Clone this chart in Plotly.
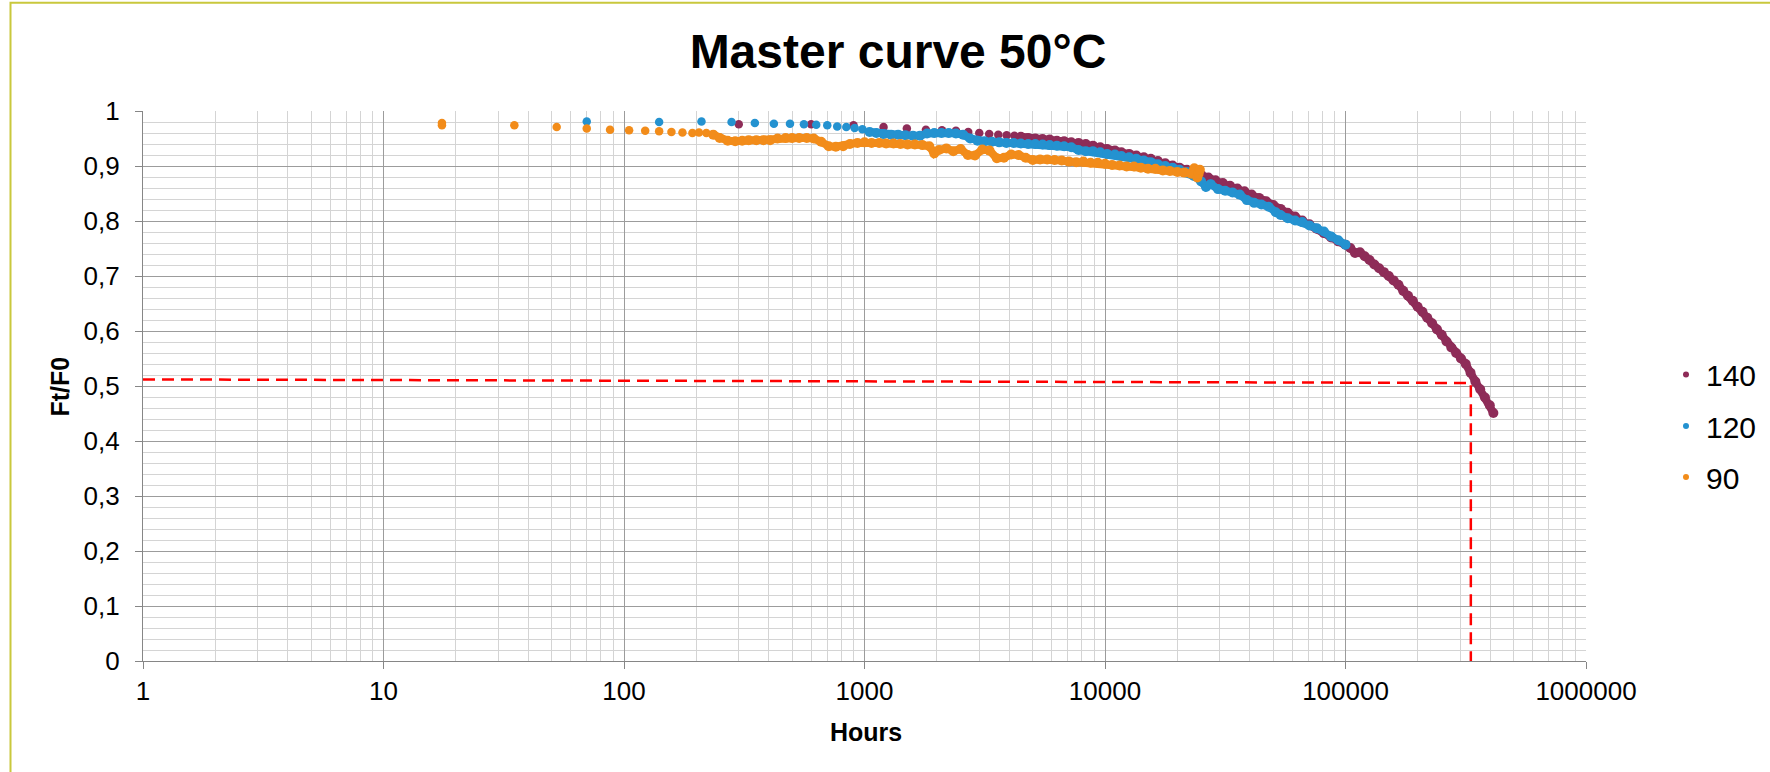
import plotly.graph_objects as go

# Master curve at 50 °C: Ft/F0 versus shifted time (hours) for three ageing temperatures
hours_140 = [300, 600, 900, 1200, 1500, 1800, 2100, 2400, 2700, 3000, 3300, 3600, 3900, 4200,
             4470, 4790, 5130, 5500, 5890, 6310, 6760, 7240, 7760, 8320, 8910, 9550, 10200,
             11000, 11700, 12600, 13500, 14500, 15500, 16600, 17800, 19100, 20400, 21900,
             23400, 25100, 26900, 28800, 30900, 33100, 35500, 38000, 40700, 43700, 46800,
             50100, 53700, 57500, 61700, 66100, 70800, 75900, 81300, 87100, 93300, 100000,
             104700, 109600, 114800, 120200, 125900, 131800, 138000, 144500, 151400, 158500,
             166000, 173800, 182000, 190500, 199500, 208900, 218800, 229100, 239900, 251200,
             263000, 275400, 288400, 302000, 316200, 331100, 346700, 363100, 380200, 398100,
             412000]
ratio_140 = [0.976, 0.976, 0.974, 0.971, 0.968, 0.966, 0.965, 0.964, 0.962, 0.960, 0.958, 0.957,
             0.956, 0.955,
             0.953, 0.951, 0.950, 0.949, 0.948, 0.946, 0.945, 0.943, 0.942, 0.940, 0.937, 0.934,
             0.931, 0.928, 0.925, 0.922, 0.919, 0.916, 0.913, 0.909, 0.905, 0.901, 0.897, 0.893,
             0.889, 0.884, 0.879, 0.874, 0.869, 0.864, 0.859, 0.854, 0.848, 0.842, 0.836, 0.829,
             0.822, 0.815, 0.808, 0.801, 0.794, 0.786, 0.778, 0.770, 0.763, 0.757,
             0.751, 0.742, 0.743, 0.736, 0.729, 0.721, 0.714, 0.707, 0.700, 0.692, 0.684, 0.673,
             0.664, 0.655, 0.644, 0.635, 0.624, 0.614, 0.603, 0.593, 0.581, 0.570, 0.560, 0.550,
             0.540, 0.524, 0.508, 0.494, 0.479, 0.465, 0.451]

hours_120 = [70, 140, 210, 280, 350, 420, 490, 560, 630, 700, 770, 840, 910, 980,
             1050, 1120, 1200, 1290, 1380, 1480, 1590, 1700, 1820, 1950, 2090, 2240, 2400, 2570,
             2750, 2950, 3160, 3390, 3630, 3890, 4170, 4470, 4790, 5130, 5500, 5890, 6310, 6760,
             7240, 7760, 8320, 8910, 9550, 10200, 11000, 11700, 12600, 13500, 14500, 15500,
             16600, 17800, 19100, 20400, 21900, 23400, 25100, 26300, 27500, 29500, 31600, 33900,
             36300, 38900, 41700, 44700, 47900, 51300, 53700, 57500, 61700, 66100, 70800, 75900,
             81300, 87100, 93300, 100000]
ratio_120 = [0.981, 0.980, 0.981, 0.980, 0.978, 0.977, 0.977, 0.976, 0.975, 0.974, 0.972, 0.971,
             0.969, 0.967,
             0.962, 0.960, 0.958, 0.957, 0.957, 0.956, 0.955, 0.955, 0.959, 0.960, 0.960, 0.960,
             0.959, 0.957, 0.950, 0.946, 0.945, 0.944, 0.943, 0.942, 0.942, 0.941, 0.940, 0.940,
             0.939, 0.938, 0.937, 0.936, 0.934, 0.929, 0.927, 0.927, 0.925, 0.922, 0.921, 0.918,
             0.916, 0.913, 0.910, 0.907, 0.903, 0.900, 0.897, 0.893, 0.889, 0.882, 0.872, 0.862,
             0.867, 0.858, 0.855, 0.852, 0.848, 0.838, 0.833, 0.830, 0.826, 0.816, 0.811, 0.805,
             0.801, 0.798, 0.792, 0.787, 0.781, 0.772, 0.765, 0.757]

hours_90 = [17.5, 17.5, 35, 52.5, 70, 87.5, 105, 122.5, 140, 157.5, 175, 192.5,
            205, 220, 235, 250, 270, 290, 310, 330, 355, 380, 405, 435, 470, 500, 535, 575, 615,
            660, 710, 760, 815, 870, 935, 1000, 1070, 1150, 1230, 1320, 1410, 1510, 1620, 1740,
            1860, 1950, 2040, 2190, 2340, 2510, 2690, 2880, 3090, 3310, 3550, 3800, 4070, 4370,
            4680, 5010, 5370, 5750, 6170, 6610, 7080, 7590, 8130, 8710, 9330, 10000, 10700,
            11500, 12300, 13200, 14100, 15100, 16200, 17400, 18600, 20000, 21400, 22900, 23500,
            24200, 24500, 24800]
ratio_90 = [0.978, 0.974, 0.974, 0.971, 0.968, 0.966, 0.965, 0.964, 0.963, 0.962, 0.961, 0.960,
            0.961, 0.960, 0.957, 0.951, 0.946, 0.945, 0.946, 0.947, 0.947, 0.947, 0.947, 0.950,
            0.951, 0.951, 0.951, 0.951, 0.950, 0.944, 0.936, 0.935, 0.936, 0.940, 0.942, 0.943,
            0.942, 0.942, 0.941, 0.941, 0.940, 0.939, 0.939, 0.938, 0.936, 0.923, 0.929, 0.932,
            0.927, 0.931, 0.920, 0.919, 0.930, 0.928, 0.914, 0.915, 0.921, 0.920, 0.915, 0.911,
            0.912, 0.912, 0.911, 0.910, 0.908, 0.907, 0.908, 0.906, 0.906, 0.904, 0.902, 0.901,
            0.899, 0.899, 0.897, 0.895, 0.895, 0.892, 0.891, 0.889, 0.888, 0.886, 0.896, 0.879,
            0.886, 0.893]

# index where each series' readings become continuous (points touching each other)
dense_from = [14, 14, 14]

# Ft/F0 = 0.5 read-off: horizontal guide to the curve, then down to the time axis
guide_hours = [1, 332000, 332000]
guide_ratio = [0.512, 0.5055, 0]

series_names = ["140", "120", "90"]
series_colors = ["#8E2C58", "#2492D0", "#F28C1A"]

x_tickvals = [1, 10, 100, 1000, 10000, 100000, 1000000]
x_ticktext = ["1", "10", "100", "1000", "10000", "100000", "1000000"]
y_tickvals = [0, 0.1, 0.2, 0.3, 0.4, 0.5, 0.6, 0.7, 0.8, 0.9, 1]
y_ticktext = ["0", "0,1", "0,2", "0,3", "0,4", "0,5", "0,6", "0,7", "0,8", "0,9", "1"]

FONT = "Liberation Sans, Arial, Helvetica, sans-serif"
W, H = 1770, 772
L, R, T, B = 143, 184, 111, 111
PW, PH = W - L - R, H - T - B


def px_x(p):
    return (p - L) / PW


def px_y(p):
    return (H - B - p) / PH


fig = go.Figure()

data = [(hours_140, ratio_140), (hours_120, ratio_120), (hours_90, ratio_90)]
for (hx, ry), name, col, k in zip(data, series_names, series_colors, dense_from):
    # overlapping readings merge into a solid band
    fig.add_trace(go.Scatter(x=hx[k:], y=ry[k:], mode="lines", showlegend=False,
                             hoverinfo="skip", line=dict(color=col, width=8)))
    sizes = [8.5] * k + [10] * (len(hx) - k)
    fig.add_trace(go.Scatter(x=hx, y=ry, mode="markers", name=name, showlegend=False,
                             marker=dict(color=col, size=sizes, opacity=1, line=dict(width=0))))

fig.add_trace(go.Scatter(x=guide_hours, y=guide_ratio, mode="lines", showlegend=False,
                         line=dict(color="#FF0000", width=2.5, dash="12px,7px")))

# legend entries, one legend box per series
legend_keys = ["legend", "legend2", "legend3"]
legend_rows = [374.5, 426, 477]
for name, col, key in zip(series_names, series_colors, legend_keys):
    fig.add_trace(go.Scatter(x=[None], y=[None], mode="markers", name=name, legend=key,
                             marker=dict(color=col, size=6)))

legend_common = dict(font=dict(family=FONT, size=30, color="#000000"), bgcolor="rgba(0,0,0,0)",
                     borderwidth=0, xanchor="left", yanchor="middle", itemwidth=30)
layout_legends = {}
for key, row in zip(legend_keys, legend_rows):
    layout_legends[key] = dict(legend_common, x=px_x(1666), y=px_y(row))

grid_major = "#9C9C9C"
grid_minor = "#D4D4D4"
axis_col = "#868686"

minor_x = [k * 10 ** d for d in range(6) for k in range(2, 10)]

fig.update_layout(
    width=W, height=H,
    margin=dict(l=L, r=R, t=T, b=B, pad=0, autoexpand=False),
    paper_bgcolor="white", plot_bgcolor="white",
    font=dict(family=FONT, color="#000000"),
    title=dict(text="<b>Master curve 50°C</b>", font=dict(family=FONT, size=48, color="#000000"),
               xref="container", x=898 / W, xanchor="center",
               yref="container", y=1 - 50.8 / H, yanchor="middle"),
    xaxis=dict(type="log", range=[0, 6], tickmode="array", tickvals=x_tickvals, ticktext=x_ticktext,
               tickfont=dict(family=FONT, size=26, color="#000000"),
               ticks="outside", ticklen=7, tickwidth=1.3, tickcolor=axis_col, ticklabelstandoff=0,
               showgrid=True, gridcolor=grid_major, gridwidth=1.3,
               minor=dict(tickmode="array", tickvals=minor_x, showgrid=True, gridcolor=grid_minor,
                          gridwidth=1.3, ticks=""),
               showline=True, linecolor=axis_col, linewidth=1.3, zeroline=False),
    yaxis=dict(range=[0, 1], tickmode="array", tickvals=y_tickvals, ticktext=y_ticktext,
               tickfont=dict(family=FONT, size=26, color="#000000"),
               ticks="outside", ticklen=7, tickwidth=1.3, tickcolor=axis_col, ticklabelstandoff=10,
               showgrid=True, gridcolor=grid_major, gridwidth=1.3,
               minor=dict(tick0=0, dtick=0.02, showgrid=True, gridcolor=grid_minor,
                          gridwidth=1.3, ticks=""),
               showline=True, linecolor=axis_col, linewidth=1.3, zeroline=False),
    annotations=[
        dict(text="<b>Hours</b>", xref="paper", yref="paper", x=px_x(866), y=px_y(731.5),
             xanchor="center", yanchor="middle", showarrow=False,
             font=dict(family=FONT, size=25, color="#000000")),
        dict(text="<b>Ft/F0</b>", xref="paper", yref="paper", x=px_x(60.3), y=px_y(386.3),
             xanchor="center", yanchor="middle", showarrow=False, textangle=-90,
             font=dict(family=FONT, size=25, color="#000000")),
    ],
    shapes=[
        # chart-area border (left and top edges fall inside the page)
        dict(type="rect", xref="paper", yref="paper", x0=px_x(10.5), x1=px_x(1800),
             y0=px_y(2.7), y1=px_y(800), line=dict(color="#C9C83C", width=2),
             fillcolor="rgba(0,0,0,0)", layer="above"),
    ],
    **layout_legends,
)

fig.write_html("out.html")
